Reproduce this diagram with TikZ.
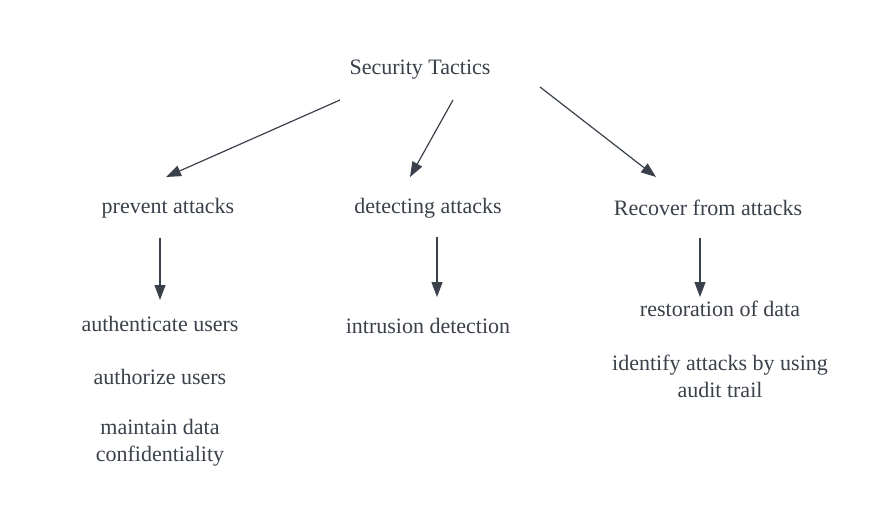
\documentclass[tikz,border=0pt]{standalone}
\usepackage{fontspec}
\setmainfont{Liberation Serif}
\usetikzlibrary{arrows.meta}
\definecolor{ink}{HTML}{3A414A}
\tikzset{
  lbl/.style={text=ink, font=\fontsize{22}{27}\selectfont, align=center, inner sep=0pt},
  conn/.style={draw=ink, line width=1.2pt, -{Triangle[length=15pt,width=11pt]}}
}
\begin{document}
\begin{tikzpicture}[x=1pt,y=-1pt]
\useasboundingbox[fill=white] (0,0) rectangle (880,521);
\node[lbl] (root) at (420,70) {Security Tactics};
\node[lbl] (prev) at (168,208) {prevent attacks};
\node[lbl] (det) at (428,208) {detecting attacks};
\node[lbl] (rec) at (708,208) {Recover from attacks};
\node[lbl] (auth) at (160,324) {authenticate users};
\node[lbl] (authz) at (160,377) {authorize users};
\node[lbl] (conf) at (160,443) {maintain data\\confidentiality};
\node[lbl] (intr) at (428,326) {intrusion detection};
\node[lbl] (rest) at (720,309) {restoration of data};
\node[lbl] (ident) at (720,376) {identify attacks by using\\audit trail};
\coordinate (a1s) at (340,100); \coordinate (a1e) at (166,177);
\coordinate (a2s) at (453,100); \coordinate (a2e) at (410,177);
\coordinate (a3s) at (540,87);  \coordinate (a3e) at (656,177);
\coordinate (b1s) at (160,238); \coordinate (b1e) at (160,300);
\coordinate (b2s) at (437,237); \coordinate (b2e) at (437,297);
\coordinate (b3s) at (700,238); \coordinate (b3e) at (700,297);
\draw[conn] (a1s) -- (a1e);
\draw[conn] (a2s) -- (a2e);
\draw[conn] (a3s) -- (a3e);
\draw[conn] (b1s) -- (b1e);
\draw[conn] (b2s) -- (b2e);
\draw[conn] (b3s) -- (b3e);
\end{tikzpicture}
\end{document}
